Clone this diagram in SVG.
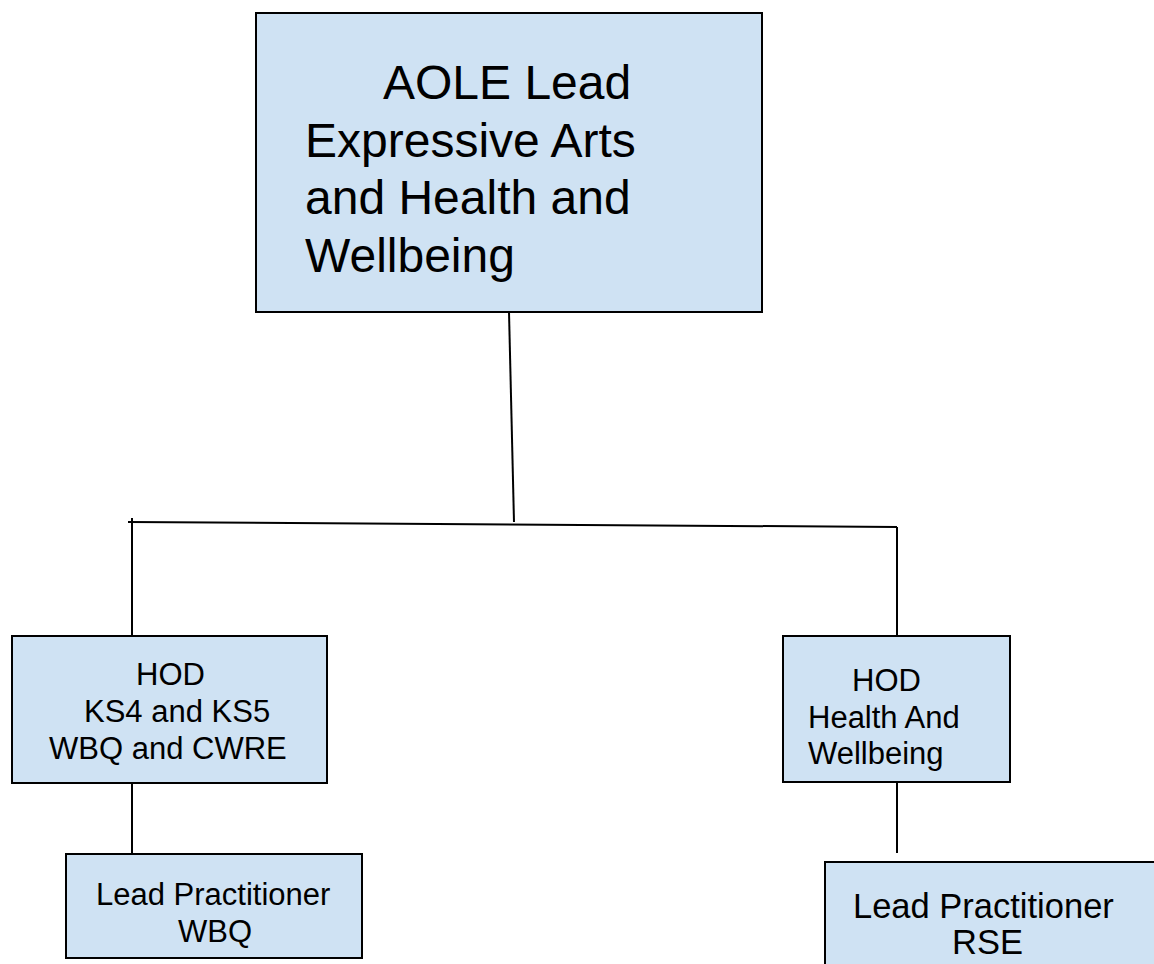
<svg xmlns="http://www.w3.org/2000/svg" width="1154" height="964" viewBox="0 0 1154 964">
  <style>
    .box { fill: #cfe2f3; stroke: #000000; stroke-width: 2; }
    .lbl { font-family: "Liberation Sans", Arial, sans-serif; fill: #000000; }
    .big { font-size: 48px; }
    .mid { font-size: 31px; }
    .rse { font-size: 34.5px; }
    .conn { stroke: #000000; stroke-width: 2; fill: none; }
  </style>
  <rect x="0" y="0" width="1154" height="964" fill="#ffffff"/>
  <g id="connectors">
    <path class="conn" d="M509 312 L514 522"/>
    <path class="conn" d="M128 522 L897 527"/>
    <path class="conn" d="M132 518 L132 636"/>
    <path class="conn" d="M897 527 L897 636"/>
    <path class="conn" d="M132 783 L132 853"/>
    <path class="conn" d="M897 782 L897 853"/>
  </g>
  <g id="node-aole">
    <rect class="box" x="256" y="13" width="506" height="299"/>
    <text class="lbl big" x="383" y="99">AOLE Lead</text>
    <text class="lbl big" x="305" y="157">Expressive Arts</text>
    <text class="lbl big" x="305" y="214">and Health and</text>
    <text class="lbl big" x="305" y="272">Wellbeing</text>
  </g>
  <g id="node-hod-ks">
    <rect class="box" x="12" y="636" width="315" height="147"/>
    <text class="lbl mid" x="136" y="685">HOD</text>
    <text class="lbl mid" x="84" y="722">KS4 and KS5</text>
    <text class="lbl mid" x="49" y="759">WBQ and CWRE</text>
  </g>
  <g id="node-lp-wbq">
    <rect class="box" x="66" y="854" width="296" height="104"/>
    <text class="lbl mid" x="96" y="905">Lead Practitioner</text>
    <text class="lbl mid" x="178" y="942">WBQ</text>
  </g>
  <g id="node-hod-hw">
    <rect class="box" x="783" y="636" width="227" height="146"/>
    <text class="lbl mid" x="852" y="691">HOD</text>
    <text class="lbl mid" x="808" y="728">Health And</text>
    <text class="lbl mid" x="808" y="764">Wellbeing</text>
  </g>
  <g id="node-lp-rse">
    <rect class="box" x="825" y="862" width="340" height="110"/>
    <text class="lbl rse" x="853" y="918">Lead Practitioner</text>
    <text class="lbl rse" x="952" y="954">RSE</text>
  </g>
</svg>
